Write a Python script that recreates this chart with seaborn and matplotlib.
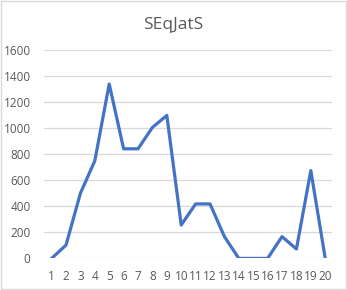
import matplotlib
matplotlib.use("Agg")
import matplotlib.pyplot as plt
import seaborn as sns
import pandas as pd
from matplotlib.patches import Rectangle

categories = [str(i) for i in range(1, 21)]
values = [0, 102, 500, 749, 1338, 841, 841, 1005, 1097, 256,
          418, 418, 167, 0, 0, 0, 167, 72, 674, 0]
yticks = [0, 200, 400, 600, 800, 1000, 1200, 1400, 1600]
title = "SEqJatS"

sns.set_theme(style="white")
plt.rcParams['font.family'] = ['Open Sans', 'DejaVu Sans']

df = pd.DataFrame({"pos": range(len(categories)), "val": values})

fig = plt.figure(figsize=(3.47, 2.90), dpi=100)
ax = fig.add_axes([0.128, 0.109, 0.830, 0.719])
sns.lineplot(data=df, x="pos", y="val", ax=ax, color="#4472C4", linewidth=2.3)

ax.set_xlim(-0.5, len(categories) - 0.5)
ax.set_ylim(0, 1600)
ax.set_yticks(yticks)
ax.set_yticklabels([str(v) for v in yticks])
ax.set_xticks(range(len(categories)))
ax.set_xticklabels(categories)
ax.set_xlabel("")
ax.set_ylabel("")
ax.grid(axis="y", color="#D9D9D9", linewidth=0.9)
ax.set_axisbelow(True)
for s in ax.spines.values():
    s.set_visible(False)
ax.tick_params(axis="both", length=0, labelsize=8.5, colors="#595959")
ax.tick_params(axis="y", pad=10)
ax.tick_params(axis="x", pad=8)

fig.text(0.5, 0.915, title, ha="center", va="center", fontsize=12.5, color="#595959")
fig.patches.append(Rectangle((0.002, 0.002), 0.995, 0.995, transform=fig.transFigure,
                             fill=False, edgecolor="#D9D9D9", linewidth=1.0))

fig.savefig("out.png", dpi=100)
